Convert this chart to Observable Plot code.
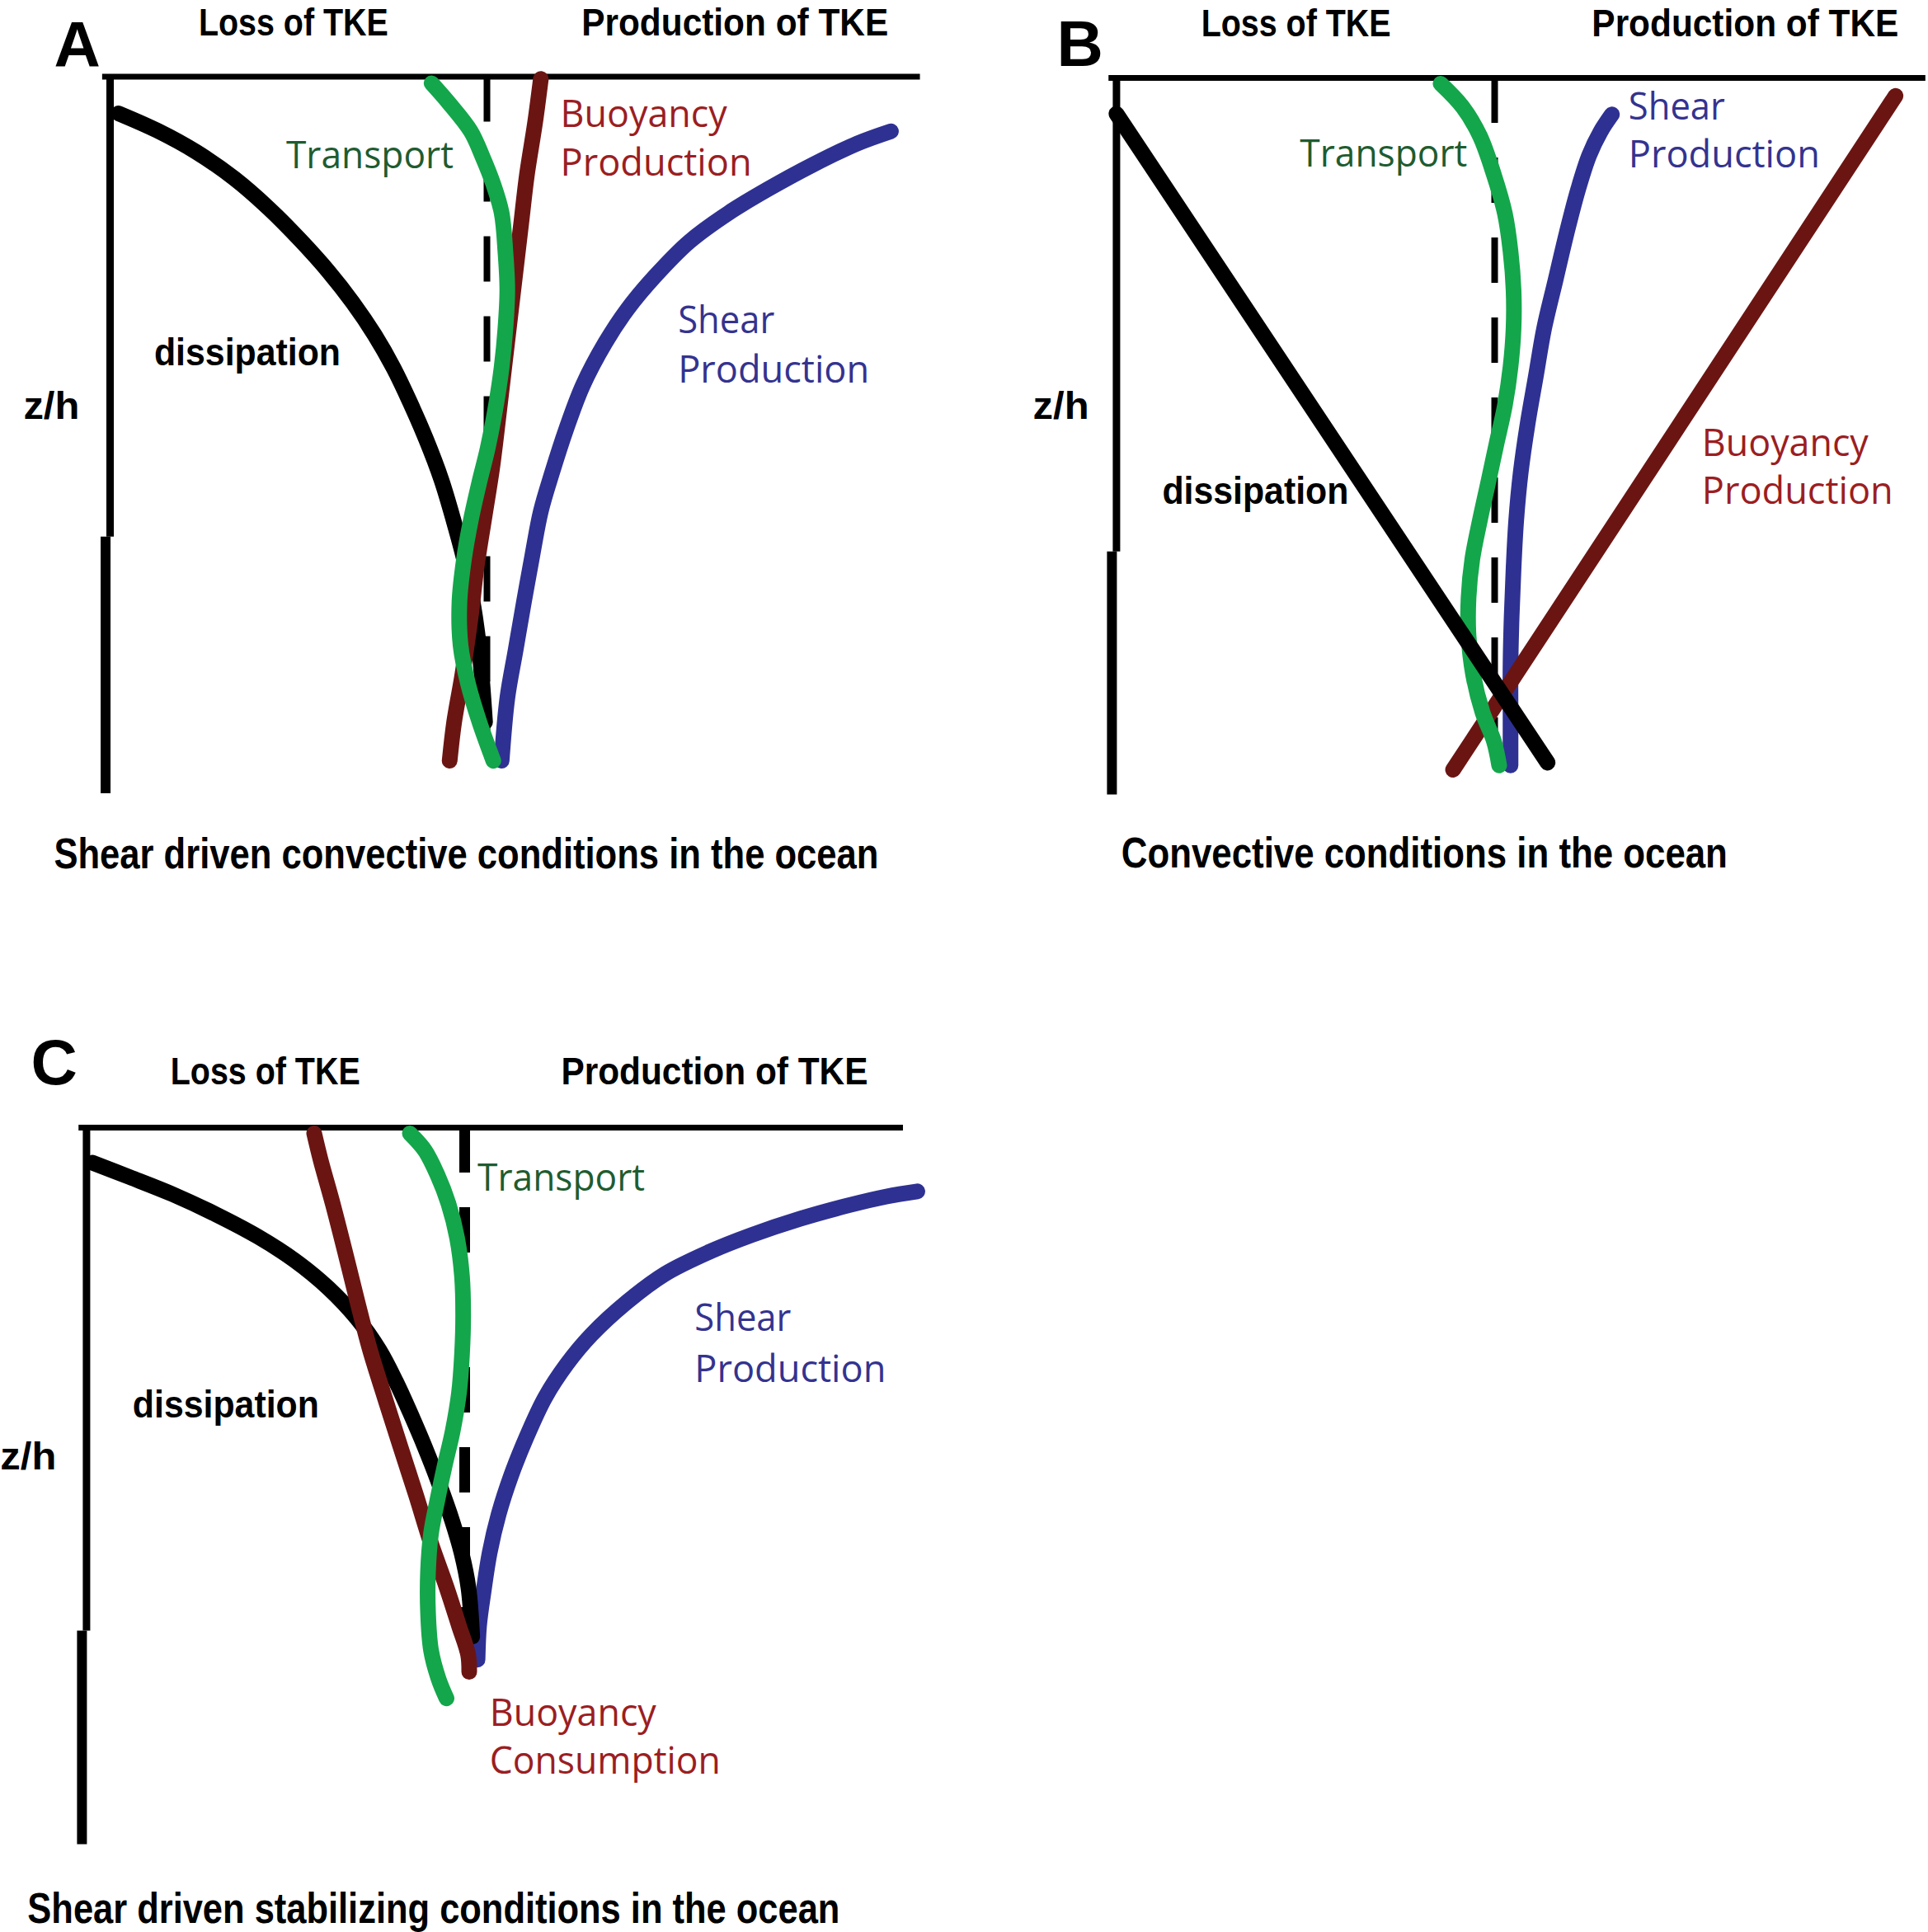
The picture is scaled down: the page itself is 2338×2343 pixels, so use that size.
<!DOCTYPE html>
<html><head><meta charset="utf-8">
<script src="https://cdn.jsdelivr.net/npm/d3@7"></script>
<script src="https://cdn.jsdelivr.net/npm/@observablehq/plot@0.6"></script>
<style>
html,body{margin:0;padding:0;background:#fff;}
#fig{position:relative;width:2338px;height:2343px;overflow:hidden;background:#fff;}
#fig > svg{position:absolute;}
</style></head><body><div id="fig"></div>
<script>
// ---- data: [TKE budget term (center line = 0, left axis = -1), depth z/h (top = 0)] ----
const dissipationA = [[-0.978,0.051],[-0.875,0.075],[-0.771,0.105],[-0.670,0.142],[-0.578,0.184],[-0.495,0.228],[-0.420,0.272],[-0.356,0.315],[-0.298,0.360],[-0.248,0.406],[-0.205,0.453],[-0.162,0.505],[-0.121,0.562],[-0.089,0.618],[-0.060,0.675],[-0.037,0.735],[-0.020,0.800],[-0.005,0.900]];
const transportA = [[-0.147,0.009],[-0.102,0.036],[-0.043,0.076],[-0.013,0.110],[0.017,0.150],[0.039,0.190],[0.049,0.244],[0.054,0.297],[0.049,0.351],[0.039,0.405],[0.024,0.458],[0.002,0.518],[-0.020,0.565],[-0.043,0.619],[-0.061,0.673],[-0.073,0.733],[-0.070,0.793],[-0.050,0.847],[-0.020,0.900],[0.017,0.954]];
const buoyancyA = [[0.143,0.003],[0.128,0.063],[0.106,0.137],[0.091,0.204],[0.076,0.271],[0.061,0.338],[0.046,0.405],[0.031,0.472],[0.014,0.545],[-0.006,0.612],[-0.028,0.686],[-0.043,0.753],[-0.065,0.833],[-0.087,0.900],[-0.099,0.954]];
const shearA = [[1.072,0.076],[0.983,0.093],[0.864,0.123],[0.745,0.157],[0.641,0.190],[0.537,0.230],[0.448,0.277],[0.373,0.324],[0.314,0.371],[0.254,0.431],[0.210,0.492],[0.173,0.552],[0.143,0.606],[0.121,0.666],[0.098,0.733],[0.076,0.800],[0.054,0.867],[0.039,0.954]];

const dissipationB = [[-1.0,0.05],[0.14,0.955]];
const transportB = [[-0.143,0.008],[-0.084,0.041],[-0.039,0.081],[-0.002,0.135],[0.027,0.189],[0.042,0.242],[0.050,0.296],[0.050,0.349],[0.042,0.403],[0.027,0.457],[0.005,0.510],[-0.017,0.564],[-0.039,0.617],[-0.059,0.671],[-0.069,0.725],[-0.069,0.778],[-0.057,0.832],[-0.032,0.885],[-0.002,0.925],[0.012,0.959]];
const shearB = [[0.310,0.051],[0.280,0.075],[0.250,0.108],[0.221,0.155],[0.191,0.215],[0.161,0.282],[0.131,0.349],[0.109,0.416],[0.087,0.483],[0.069,0.550],[0.057,0.617],[0.050,0.684],[0.045,0.751],[0.042,0.818],[0.042,0.885],[0.042,0.959]];
const buoyancyB = [[1.06,0.025],[-0.11,0.965]];

const dissipationC = [[-0.984,0.049],[-0.886,0.069],[-0.772,0.093],[-0.658,0.121],[-0.547,0.152],[-0.450,0.185],[-0.360,0.224],[-0.285,0.266],[-0.226,0.310],[-0.182,0.354],[-0.143,0.399],[-0.105,0.446],[-0.066,0.499],[-0.034,0.547],[-0.008,0.594],[0.010,0.642],[0.020,0.710]];
const buoyancyC = [[-0.398,0.008],[-0.381,0.045],[-0.349,0.106],[-0.316,0.174],[-0.284,0.242],[-0.251,0.309],[-0.211,0.377],[-0.170,0.445],[-0.129,0.512],[-0.089,0.580],[-0.048,0.641],[-0.015,0.695],[0.009,0.735],[0.012,0.759]];
const transportC = [[-0.145,0.008],[-0.105,0.032],[-0.072,0.066],[-0.043,0.106],[-0.020,0.154],[-0.007,0.208],[-0.004,0.262],[-0.007,0.316],[-0.015,0.370],[-0.032,0.424],[-0.053,0.472],[-0.072,0.519],[-0.089,0.566],[-0.097,0.620],[-0.097,0.675],[-0.089,0.729],[-0.069,0.769],[-0.048,0.796]];
const shearC = [[1.197,0.089],[1.116,0.096],[1.018,0.108],[0.888,0.127],[0.758,0.150],[0.644,0.174],[0.530,0.204],[0.432,0.242],[0.335,0.289],[0.270,0.330],[0.212,0.377],[0.164,0.431],[0.123,0.485],[0.090,0.539],[0.066,0.593],[0.050,0.647],[0.038,0.695],[0.034,0.742]];

// ---- annotation texts ----
const labelsA = [
  {text:"A", x:-1.149, y:-0.043, kind:"letter"},
  {text:"Loss of TKE", x:-0.765, y:-0.074, kind:"header"},
  {text:"Production of TKE", x:0.251, y:-0.074, kind:"header"},
  {text:"z/h", x:-1.23, y:0.46, kind:"black"},
  {text:"dissipation", x:-0.883, y:0.385, kind:"black"},
  {text:"Transport", x:-0.533, y:0.111, kind:"transport"},
  {text:"Buoyancy", x:0.195, y:0.053, kind:"buoyancy"},
  {text:"Production", x:0.195, y:0.121, kind:"buoyancy"},
  {text:"Shear", x:0.507, y:0.341, kind:"shear"},
  {text:"Production", x:0.507, y:0.41, kind:"shear"},
  {text:"Shear driven convective conditions in the ocean", x:-1.149, y:1.085, kind:"caption"}
];
const labelsB = [
  {text:"B", x:-1.158, y:-0.045, kind:"letter"},
  {text:"Loss of TKE", x:-0.776, y:-0.075, kind:"header"},
  {text:"Production of TKE", x:0.257, y:-0.075, kind:"header"},
  {text:"z/h", x:-1.221, y:0.459, kind:"black"},
  {text:"dissipation", x:-0.879, y:0.577, kind:"black"},
  {text:"Transport", x:-0.515, y:0.107, kind:"transport"},
  {text:"Shear", x:0.354, y:0.041, kind:"shear"},
  {text:"Production", x:0.354, y:0.108, kind:"shear"},
  {text:"Buoyancy", x:0.548, y:0.51, kind:"buoyancy"},
  {text:"Production", x:0.548, y:0.577, kind:"buoyancy"},
  {text:"Convective conditions in the ocean", x:-0.987, y:1.082, kind:"caption"}
];
const labelsC = [
  {text:"C", x:-1.147, y:-0.089, kind:"letter"},
  {text:"Loss of TKE", x:-0.778, y:-0.077, kind:"header"},
  {text:"Production of TKE", x:0.255, y:-0.077, kind:"header"},
  {text:"z/h", x:-1.228, y:0.46, kind:"black"},
  {text:"dissipation", x:-0.878, y:0.387, kind:"black"},
  {text:"Transport", x:0.034, y:0.071, kind:"transport"},
  {text:"Shear", x:0.608, y:0.267, kind:"shear"},
  {text:"Production", x:0.608, y:0.338, kind:"shear"},
  {text:"Buoyancy", x:0.066, y:0.818, kind:"buoyancy"},
  {text:"Consumption", x:0.066, y:0.884, kind:"buoyancy"},
  {text:"Shear driven stabilizing conditions in the ocean", x:-1.156, y:1.090, kind:"caption"}
];

// ---- styles ----
const LINE = {dissipation:"#000000", transport:"#14A64B", buoyancy:"#6B1513", shear:"#2E3192"};
const BLACKFONT = "'Liberation Sans', Arial, sans-serif";
const COLORFONT = "'Open Sans', 'Noto Sans', sans-serif";
const TEXTSTYLE = {
  letter:{fill:"#000", fontSize:78, fontWeight:700, font:BLACKFONT},
  header:{fill:"#000", fontSize:46, fontWeight:700, font:BLACKFONT},
  black:{fill:"#000", fontSize:46, fontWeight:700, font:BLACKFONT},
  caption:{fill:"#000", fontSize:52, fontWeight:700, font:BLACKFONT},
  transport:{fill:"#1E5C30", fontSize:46, fontWeight:400, font:COLORFONT},
  buoyancy:{fill:"#9B1E22", fontSize:46, fontWeight:400, font:COLORFONT},
  shear:{fill:"#34338F", fontSize:46, fontWeight:400, font:COLORFONT}
};
const TEXTWIDTH = {"Transport":203,"Buoyancy":202,"Production":232,"Shear":117,"dissipation":226,"Consumption":280,"z/h":68,
  "Loss of TKE":230,"Production of TKE":372,
  "Shear driven convective conditions in the ocean":1000,"Convective conditions in the ocean":735,
  "Shear driven stabilizing conditions in the ocean":985};

const panels = [
  {left:0, top:0, width:1169, height:1100, xr:[133,590], yr:[92.6,962.1], topEnd:1.15, dashEnd:0.93, dashW:8,
   axisBreak:0.642, labels:labelsA,
   series:[["dissipation",dissipationA],["buoyancy",buoyancyA],["shear",shearA],["transport",transportA]]},
  {left:1169, top:0, width:1169, height:1100, xr:[184.4,643], yr:[94,963.5], topEnd:1.14, dashEnd:0.93, dashW:8,
   axisBreak:0.661, labels:labelsB,
   series:[["shear",shearB],["buoyancy",buoyancyB],["transport",transportB],["dissipation",dissipationB]]},
  {left:0, top:1200, width:1169, height:1143, xr:[104.4,563], yr:[167,1036.5], topEnd:1.16, dashEnd:0.76, dashW:13,
   axisBreak:0.702, labels:labelsC,
   series:[["shear",shearC],["dissipation",dissipationC],["buoyancy",buoyancyC],["transport",transportC]]}
];

const fig = document.getElementById("fig");
for (const p of panels) {
  const marks = [
    Plot.ruleY([0], {x1:-1.02, x2:p.topEnd, stroke:"#000", strokeWidth:7}),
    Plot.ruleX([-1], {y1:0, y2:p.axisBreak, stroke:"#000", strokeWidth:9}),
    Plot.ruleX([-1.012], {y1:p.axisBreak, y2:1, stroke:"#000", strokeWidth:12}),
    Plot.ruleX([0], {y1:0, y2:p.dashEnd, stroke:"#000", strokeWidth:p.dashW, strokeDasharray:"55,42"})
  ];
  for (const [term, pts] of p.series) {
    marks.push(Plot.line(pts, {x:d=>d[0], y:d=>d[1], stroke:LINE[term], strokeWidth:19,
      strokeLinecap:"round", strokeLinejoin:"round", curve: pts.length > 2 ? "catmull-rom" : "linear"}));
  }
  for (const kind of Object.keys(TEXTSTYLE)) {
    const rows = p.labels.filter(l => l.kind === kind);
    if (!rows.length) continue;
    const s = TEXTSTYLE[kind];
    marks.push(Plot.text(rows, {x:"x", y:"y", text:"text", textAnchor:"start", fill:s.fill,
      fontSize:s.fontSize, fontWeight:s.fontWeight, fontFamily:s.font}));
  }
  const svg = Plot.plot({
    width:p.width, height:p.height, margin:0,
    x:{domain:[-1,0], range:p.xr, axis:null},
    y:{domain:[0,1], range:p.yr, axis:null},
    style:{background:"transparent", overflow:"visible"},
    marks
  });
  svg.style.left = p.left + "px";
  svg.style.top = p.top + "px";
  fig.appendChild(svg);
  svg.querySelectorAll("text").forEach(t => {
    const w = TEXTWIDTH[t.textContent];
    if (w) { t.setAttribute("textLength", w); t.setAttribute("lengthAdjust", "spacingAndGlyphs"); }
  });
}
</script></body></html>
